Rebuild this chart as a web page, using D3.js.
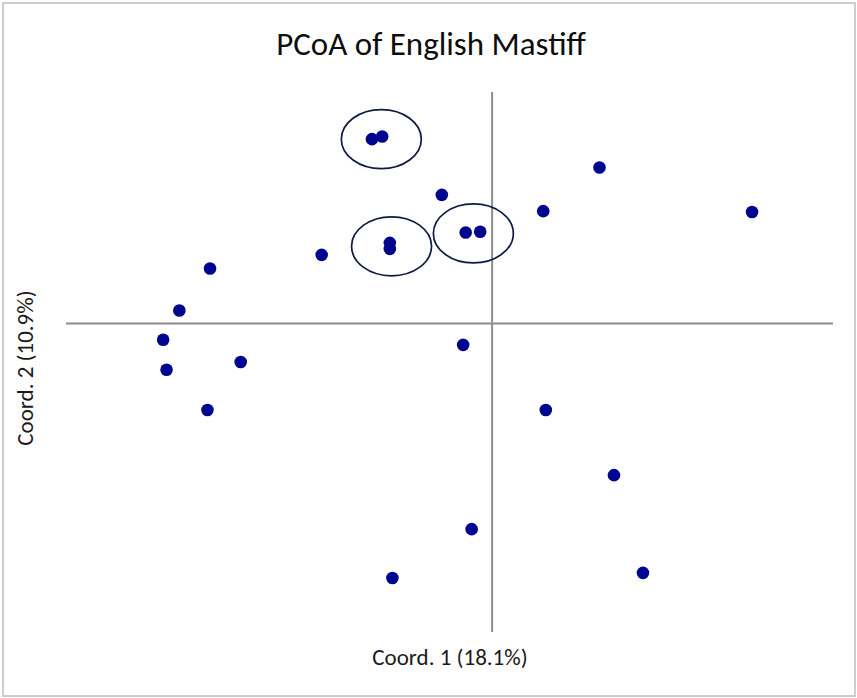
<!DOCTYPE html>
<html>
<head>
<meta charset="utf-8">
<script src="https://cdn.jsdelivr.net/npm/d3@7"></script>
<style>
  html, body { margin: 0; padding: 0; background: #fff; }
  svg { display: block; }
</style>
</head>
<body>
<svg id="chart" width="857" height="698"></svg>
<script>
// PCoA sample scores (Coord. 1, Coord. 2)
const coord1 = [-0.141, -0.129, -0.059, -0.120, -0.120, -0.031, -0.014,
                 0.060,  0.126,  0.305, -0.200, -0.331, -0.367, -0.386,
                -0.382, -0.295, -0.334, -0.034,  0.063,  0.143, -0.024,
                 0.177, -0.117];
const coord2 = [ 0.215,  0.218,  0.150,  0.094,  0.087,  0.106,  0.107,
                 0.131,  0.182,  0.130,  0.080,  0.064,  0.015, -0.019,
                -0.054, -0.045, -0.101, -0.025, -0.101, -0.177, -0.240,
                -0.291, -0.297];

// Encircled groups of near-identical samples: centre (Coord. 1, Coord. 2)
const groupCoord1 = [-0.130, -0.118, -0.022];
const groupCoord2 = [ 0.215,  0.090,  0.105];

const titleText = "PCoA of English Mastiff";
const xLabel = "Coord. 1 (18.1%)";
const yLabel = "Coord. 2 (10.9%)";

const svg = d3.select("#chart");
const W = 857, H = 698;

// outer frame
svg.append("rect")
  .attr("x", 3).attr("y", 3).attr("width", W - 5).attr("height", H - 5)
  .attr("fill", "#fff").attr("stroke", "#cdcdcd").attr("stroke-width", 2);

const x = d3.scaleLinear().domain([-0.5, 0.4]).range([66, 833]);
const y = d3.scaleLinear().domain([-0.36, 0.27]).range([632, 92]);

// cross-hair axes through the origin
const axisColor = "#8d8d8d";
svg.append("line")
  .attr("x1", x(-0.5)).attr("x2", x(0.4))
  .attr("y1", y(0)).attr("y2", y(0))
  .attr("stroke", axisColor).attr("stroke-width", 2);
svg.append("line")
  .attr("x1", x(0)).attr("x2", x(0))
  .attr("y1", y(0.27)).attr("y2", y(-0.36))
  .attr("stroke", axisColor).attr("stroke-width", 2);

// group ellipses
svg.append("g").selectAll("ellipse")
  .data(d3.range(groupCoord1.length))
  .join("ellipse")
  .attr("cx", i => x(groupCoord1[i]))
  .attr("cy", i => y(groupCoord2[i]))
  .attr("rx", 40).attr("ry", 29.5)
  .attr("fill", "none")
  .attr("stroke", "#101a45").attr("stroke-width", 1.7);

// sample points
svg.append("g").selectAll("circle")
  .data(d3.range(coord1.length))
  .join("circle")
  .attr("cx", i => x(coord1[i]))
  .attr("cy", i => y(coord2[i]))
  .attr("r", 6.3)
  .attr("fill", "#00058f");

const font = "Carlito, Lato, 'Open Sans', sans-serif";

svg.append("text")
  .attr("x", 431).attr("y", 55)
  .attr("text-anchor", "middle")
  .attr("font-family", font).attr("font-size", 33)
  .attr("fill", "#0d0d0d")
  .text(titleText);

svg.append("text")
  .attr("x", 450).attr("y", 665)
  .attr("text-anchor", "middle")
  .attr("font-family", font).attr("font-size", 23)
  .attr("fill", "#1a1a1a")
  .text(xLabel);

svg.append("text")
  .attr("transform", "translate(33,368) rotate(-90)")
  .attr("text-anchor", "middle")
  .attr("font-family", font).attr("font-size", 23)
  .attr("fill", "#1a1a1a")
  .text(yLabel);
</script>
</body>
</html>
